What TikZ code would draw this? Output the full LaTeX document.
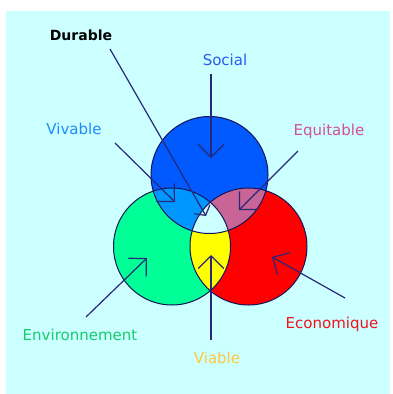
\documentclass[tikz,border=0pt]{standalone}
\usepackage{fontspec}
\setmainfont{DejaVu Sans}
\usetikzlibrary{arrows.meta}
\definecolor{bgc}{RGB}{204,255,255}
\definecolor{cblue}{RGB}{0,90,255}
\definecolor{cgreen}{RGB}{0,255,150}
\definecolor{cred}{RGB}{255,0,0}
\definecolor{cbg}{RGB}{0,150,255}
\definecolor{cbr}{RGB}{200,100,150}
\definecolor{cgr}{RGB}{255,255,0}
\definecolor{ringc}{RGB}{20,20,90}
\definecolor{linec}{RGB}{40,40,120}
\definecolor{tsocial}{RGB}{40,90,240}
\definecolor{tvivable}{RGB}{30,140,255}
\definecolor{tequit}{RGB}{210,80,150}
\definecolor{tenv}{RGB}{20,205,110}
\definecolor{tviable}{RGB}{255,200,60}
\definecolor{teco}{RGB}{240,20,30}
\begin{document}
\begin{tikzpicture}[x=1pt,y=-1pt,
  lbl/.style={font=\fontsize{15}{18}\selectfont, inner sep=0pt, anchor=base},
  ptr/.style={draw=linec, line width=1.2pt, -{Straight Barb[length=12.7pt,width=25.5pt,line width=1.2pt]}},
  smallptr/.style={draw=linec, line width=1.2pt, -{Straight Barb[length=7pt,width=18pt,line width=1.2pt]}},
  ring/.style={draw=ringc, line width=1pt}]
\useasboundingbox (0,0) rectangle (392,394);
\fill[bgc] (6,11) rectangle (390,394);
\coordinate (cB) at (209.5,175);
\coordinate (cG) at (172,246.5);
\coordinate (cR) at (248.5,246.5);
\def\R{58.5pt}
\fill[cblue] (cB) circle[radius=\R];
\fill[cgreen] (cG) circle[radius=\R];
\fill[cred] (cR) circle[radius=\R];
\begin{scope}\clip (cB) circle[radius=\R]; \fill[cbg] (cG) circle[radius=\R]; \end{scope}
\begin{scope}\clip (cB) circle[radius=\R]; \fill[cbr] (cR) circle[radius=\R]; \end{scope}
\begin{scope}\clip (cG) circle[radius=\R]; \fill[cgr] (cR) circle[radius=\R]; \end{scope}
\begin{scope}\clip (cB) circle[radius=\R]; \clip (cG) circle[radius=\R]; \fill[bgc] (cR) circle[radius=\R]; \end{scope}
\draw[ring] (cB) circle[radius=\R];
\draw[ring] (cG) circle[radius=\R];
\draw[ring] (cR) circle[radius=\R];
% labels
\node[lbl, font=\fontsize{14}{17}\selectfont\bfseries, text=black] (durable) at (81,40) {Durable};
\node[lbl, text=tsocial] (social) at (225,65) {Social};
\node[lbl, text=tvivable] (vivable) at (74,134) {Vivable};
\node[lbl, text=tequit] (equitable) at (329,135) {Equitable};
\node[lbl, text=tenv] (environ) at (80,340) {Environnement};
\node[lbl, text=tviable] (viable) at (217,363) {Viable};
\node[lbl, text=teco] (eco) at (332,328) {Economique};
% connector ends
\coordinate (dS) at (110,49);   \coordinate (dT) at (206,216);
\coordinate (sS) at (211,74);   \coordinate (sT) at (211,158);
\coordinate (vS) at (115,143);  \coordinate (vT) at (175,202);
\coordinate (qS) at (298,151);  \coordinate (qT) at (239,210);
\coordinate (nS) at (86,317);   \coordinate (nT) at (147,258);
\coordinate (bS) at (211,340);  \coordinate (bT) at (211,255);
\coordinate (eS) at (345,298);  \coordinate (eT) at (272,257);
\draw[smallptr] (dS) -- (dT);
\draw[ptr] (sS) -- (sT);
\draw[ptr] (vS) -- (vT);
\draw[ptr] (qS) -- (qT);
\draw[ptr] (nS) -- (nT);
\draw[ptr] (bS) -- (bT);
\draw[ptr] (eS) -- (eT);
\end{tikzpicture}
\end{document}
